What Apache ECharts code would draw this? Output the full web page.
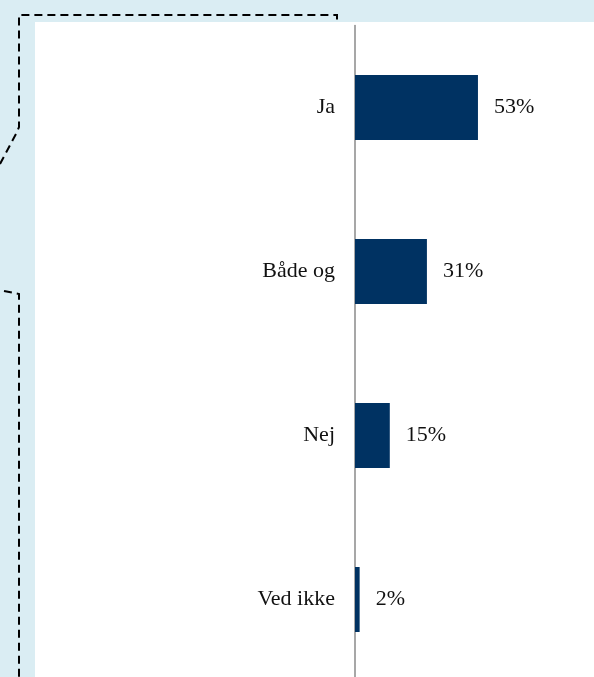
<!DOCTYPE html>
<html>
<head>
<meta charset="utf-8">
<script src="https://cdn.jsdelivr.net/npm/echarts@6/dist/echarts.min.js"></script>
<style>
  html, body { margin: 0; padding: 0; background: #daedf3; }
  #chart { width: 594px; height: 677px; }
</style>
</head>
<body>
<div id="chart"></div>
<script>
// svar kategorier og andele (%)
const categories = ['Ja', 'Både og', 'Nej', 'Ved ikke'];
const shares = [53, 31, 15, 2];

const myChart = echarts.init(document.getElementById('chart'));

const dash = { stroke: '#000', lineWidth: 2, lineDash: [8, 5], fill: null };

const option = {
  backgroundColor: '#daedf3',
  animation: false,
  textStyle: { fontFamily: 'Liberation Serif' },
  graphic: [
    // hvidt panel
    { type: 'rect', z: -10, shape: { x: 35, y: 22, width: 600, height: 700 }, style: { fill: '#ffffff' } },
    // stiplede linjer til venstre
    { type: 'polyline', z: 10, shape: { points: [[0, 164], [17, 132], [19, 127], [19, 15], [337, 15], [337, 21]] }, style: dash },
    { type: 'polyline', z: 10, shape: { points: [[4, 291], [19, 294], [19, 680]] }, style: dash }
  ],
  grid: { left: 355, top: 25.5, width: 232, height: 656, containLabel: false, outerBoundsMode: 'none' },
  xAxis: {
    type: 'value',
    min: 0,
    max: 100,
    show: false
  },
  yAxis: {
    type: 'category',
    inverse: true,
    data: categories,
    axisLine: { show: true, lineStyle: { color: '#8a8a8a', width: 1.5 } },
    axisTick: { show: false },
    axisLabel: { color: '#111', fontSize: 22, margin: 20, fontFamily: 'Liberation Serif' }
  },
  series: [
    {
      type: 'bar',
      data: shares,
      barWidth: 65,
      itemStyle: { color: '#003262' },
      label: {
        show: true,
        position: 'right',
        distance: 16,
        formatter: '{c}%',
        color: '#111',
        fontSize: 22,
        fontFamily: 'Liberation Serif'
      }
    }
  ]
};

myChart.setOption(option);
</script>
</body>
</html>
